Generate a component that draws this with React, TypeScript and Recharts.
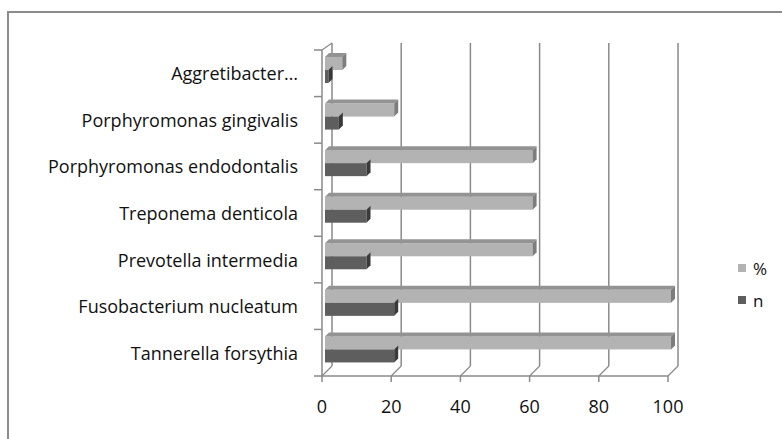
import React from 'react';
import { BarChart, Bar, XAxis, YAxis, CartesianGrid } from 'recharts';

const categories = [
  'Aggretibacter…',
  'Porphyromonas gingivalis',
  'Porphyromonas endodontalis',
  'Treponema denticola',
  'Prevotella intermedia',
  'Fusobacterium nucleatum',
  'Tannerella forsythia',
];
const percentValues = [5, 20, 60, 60, 60, 100, 100];
const nValues = [1, 4, 12, 12, 12, 20, 20];
const xTicks = [0, 20, 40, 60, 80, 100];
const seriesNames = ['%', 'n'];

const data = categories.map((name, i) => ({ name, pct: percentValues[i], n: nValues[i] }));

const FONT = '"Open Sans", Lato, sans-serif';
const AXIS = '#8a8a8a';
const DEPTH = 10;
const PLOT_TOP = 50;
const PLOT_H = 326;

// bar with a thin top face and a right side face, sitting half way in the depth
const make3D = (front: string, top: string | null, side: string) => (props: any) => {
  const { x, y, width, height } = props;
  if (!width || width <= 0) return <g />;
  const d = 4;
  const sx = x + 3;
  const sy = y - 3;
  return (
    <g>
      <rect x={sx} y={sy} width={width} height={height} fill={front} />
      {top && (
        <polygon
          points={`${sx},${sy} ${sx + d},${sy - d} ${sx + width + d},${sy - d} ${sx + width},${sy}`}
          fill={top}
        />
      )}
      <polygon
        points={`${sx + width},${sy} ${sx + width + d},${sy - d} ${sx + width + d},${sy + height - d} ${sx + width},${sy + height}`}
        fill={side}
      />
    </g>
  );
};

const renderGridLine = (p: any) => {
  return (
    <g key={`grid-${p.index ?? p.x1}`}>
      <line x1={p.x1 + DEPTH} y1={p.y1 - 7} x2={p.x2 + DEPTH} y2={p.y2 - DEPTH} stroke={AXIS} strokeWidth={1.5} />
      <line x1={p.x2} y1={p.y2} x2={p.x2 + DEPTH} y2={p.y2 - DEPTH} stroke={AXIS} strokeWidth={1.2} />
      {p.index === 0 && (
        <line x1={p.x1} y1={p.y1} x2={p.x1 + DEPTH} y2={p.y1 - 7} stroke={AXIS} strokeWidth={1.2} />
      )}
    </g>
  );
};

const CategoryTick = (props: any) => {
  const { x, y, payload, index } = props;
  const band = PLOT_H / categories.length;
  return (
    <g>
      <line x1={x - 8} y1={y - band / 2} x2={x} y2={y - band / 2} stroke={AXIS} strokeWidth={1.5} />
      {index === categories.length - 1 && (
        <line x1={x - 8} y1={y + band / 2} x2={x} y2={y + band / 2} stroke={AXIS} strokeWidth={1.5} />
      )}
      <text x={x - 24} y={y} textAnchor="end" dominantBaseline="central" fontSize={18} fontFamily={FONT} fill="#111">
        {payload.value}
      </text>
    </g>
  );
};

const legendColors = ['#b3b3b3', '#5e5e5e'];

export default function App() {
  return (
    <div style={{ position: 'absolute', left: 0, top: 0, width: 782, height: 439, background: '#fff', overflow: 'hidden' }}>
      <div
        style={{
          position: 'absolute',
          left: 7,
          top: 11,
          width: 800,
          height: 460,
          borderTop: '2px solid #8c8c8c',
          borderLeft: '2px solid #8c8c8c',
        }}
      />
      <div style={{ position: 'absolute', left: 0, top: 0 }}>
        <BarChart
          width={782}
          height={439}
          data={data}
          layout="vertical"
          margin={{ top: PLOT_TOP, right: 114, left: 0, bottom: 23 }}
          barSize={13}
          barGap={0}
        >
          <CartesianGrid horizontal={false} vertical={renderGridLine} />
          <XAxis
            type="number"
            domain={[0, 100]}
            ticks={xTicks}
            interval={0}
            height={40}
            axisLine={{ stroke: AXIS, strokeWidth: 1.5 }}
            tickLine={{ stroke: AXIS, strokeWidth: 1.5 }}
            tickSize={6}
            tickMargin={18}
            tick={{ fontSize: 18, fill: '#111', fontFamily: FONT }}
          />
          <YAxis
            type="category"
            dataKey="name"
            width={322}
            axisLine={{ stroke: AXIS, strokeWidth: 1.5 }}
            tickLine={false}
            tickSize={0}
            tickMargin={0}
            interval={0}
            tick={<CategoryTick />}
          />
          <Bar dataKey="pct" name={seriesNames[0]} shape={make3D('#b3b3b3', '#939393', '#7d7d7d')} isAnimationActive={false} />
          <Bar dataKey="n" name={seriesNames[1]} shape={make3D('#5e5e5e', null, '#3a3a3a')} isAnimationActive={false} />
        </BarChart>
      </div>
      {seriesNames.map((s, i) => (
        <div
          key={s}
          style={{
            position: 'absolute',
            left: 738,
            top: 257 + i * 32,
            height: 22,
            display: 'flex',
            alignItems: 'center',
            fontFamily: FONT,
            fontSize: 17,
            color: '#111',
          }}
        >
          <span style={{ width: 8, height: 8, background: legendColors[i], display: 'inline-block', marginRight: 7 }} />
          <span>{s}</span>
        </div>
      ))}
    </div>
  );
}
